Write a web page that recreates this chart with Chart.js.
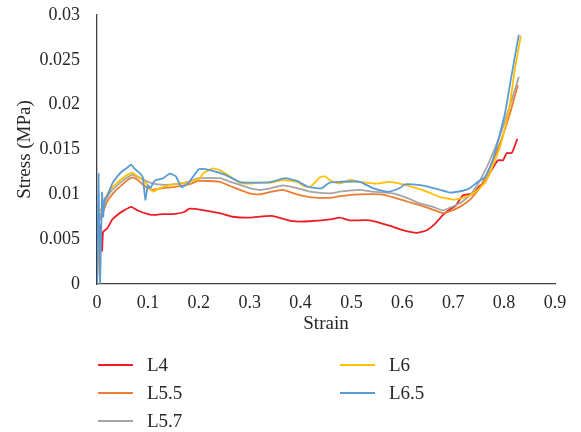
<!DOCTYPE html>
<html>
<head>
<meta charset="utf-8">
<script src="https://cdn.jsdelivr.net/npm/chart.js@4/dist/chart.umd.min.js"></script>
<style>
  body { margin: 0; background: #fff; }
  #wrap { position: relative; width: 581px; height: 432px; }
  #legend { position: absolute; left: 0; top: 0; width: 581px; height: 432px; pointer-events: none;
    font-family: "Liberation Serif", serif; font-size: 19px; color: #262626; }
  .item { position: absolute; display: flex; align-items: center; height: 24px; }
  .item span.swatch { display: inline-block; width: 35px; height: 2px; margin-right: 14px; }
</style>
</head>
<body>
<div id="wrap">
  <canvas id="chart" width="581" height="432"></canvas>
  <div id="legend"></div>
</div>
<script>
const seriesNames = ['L4', 'L5.5', 'L5.7', 'L6', 'L6.5'];
const seriesColors = ['#EE1C25', '#ED7D31', '#A5A5A5', '#FFC000', '#5B9BD5'];

const xTicks = [0, 0.1, 0.2, 0.3, 0.4, 0.5, 0.6, 0.7, 0.8, 0.9];
const yTicks = [0, 0.005, 0.01, 0.015, 0.02, 0.025, 0.03];

const strainL4 = [0, 0.004, 0.008, 0.010, 0.012, 0.02, 0.03, 0.04, 0.05, 0.067, 0.08, 0.1, 0.113, 0.13, 0.15, 0.17, 0.182, 0.202, 0.241, 0.267, 0.3, 0.343, 0.385, 0.418, 0.457, 0.477, 0.497, 0.536, 0.575, 0.601, 0.628, 0.648, 0.664, 0.68, 0.693, 0.706, 0.719, 0.739, 0.753, 0.762, 0.772, 0.788, 0.798, 0.805, 0.815, 0.826];
const stressL4 = [0, 0.0068, 0.0060, 0.0037, 0.0058, 0.0062, 0.0072, 0.0077, 0.0081, 0.0086, 0.0082, 0.0078, 0.0077, 0.0078, 0.0078, 0.0080, 0.0084, 0.0083, 0.0079, 0.0075, 0.0074, 0.0076, 0.0070, 0.0070, 0.0072, 0.0074, 0.0071, 0.0071, 0.0065, 0.0060, 0.0057, 0.0060, 0.0067, 0.0077, 0.0083, 0.0088, 0.0099, 0.0101, 0.0110, 0.0113, 0.0124, 0.0138, 0.0138, 0.0146, 0.0146, 0.0162];

const strainL55 = [0, 0.004, 0.01, 0.02, 0.03, 0.04, 0.05, 0.06, 0.07, 0.08, 0.09, 0.1, 0.11, 0.13, 0.15, 0.18, 0.2, 0.241, 0.267, 0.3, 0.32, 0.343, 0.365, 0.393, 0.418, 0.457, 0.477, 0.516, 0.556, 0.581, 0.609, 0.634, 0.66, 0.68, 0.693, 0.713, 0.733, 0.753, 0.772, 0.792, 0.812, 0.827];
const stressL55 = [0, 0.0070, 0.0078, 0.0092, 0.0100, 0.0106, 0.0111, 0.0116, 0.0119, 0.0116, 0.0111, 0.0107, 0.0105, 0.0107, 0.0108, 0.0111, 0.0115, 0.0114, 0.0108, 0.0101, 0.0100, 0.0103, 0.0105, 0.0100, 0.0097, 0.0096, 0.0098, 0.0100, 0.0100, 0.0097, 0.0092, 0.0088, 0.0083, 0.0079, 0.0081, 0.0086, 0.0094, 0.0108, 0.0130, 0.0157, 0.0191, 0.0222];

const strainL57 = [0, 0.004, 0.01, 0.02, 0.03, 0.04, 0.05, 0.06, 0.07, 0.08, 0.09, 0.1, 0.12, 0.15, 0.18, 0.2, 0.241, 0.267, 0.3, 0.32, 0.343, 0.365, 0.393, 0.418, 0.457, 0.477, 0.516, 0.542, 0.581, 0.609, 0.634, 0.66, 0.68, 0.693, 0.713, 0.733, 0.753, 0.772, 0.792, 0.812, 0.829];
const stressL57 = [0, 0.0075, 0.0080, 0.0097, 0.0105, 0.0110, 0.0115, 0.0119, 0.0122, 0.0119, 0.0117, 0.0114, 0.0111, 0.0111, 0.0114, 0.0118, 0.0118, 0.0113, 0.0107, 0.0105, 0.0107, 0.0110, 0.0107, 0.0103, 0.0101, 0.0103, 0.0105, 0.0103, 0.0101, 0.0096, 0.0090, 0.0086, 0.0082, 0.0085, 0.0090, 0.0099, 0.0116, 0.0138, 0.0166, 0.0200, 0.0231];

const strainL6 = [0, 0.004, 0.01, 0.02, 0.03, 0.04, 0.05, 0.06, 0.07, 0.08, 0.09, 0.1, 0.11, 0.12, 0.14, 0.16, 0.18, 0.2, 0.21, 0.228, 0.241, 0.267, 0.28, 0.3, 0.32, 0.343, 0.365, 0.393, 0.405, 0.418, 0.428, 0.438, 0.448, 0.457, 0.477, 0.497, 0.516, 0.55, 0.575, 0.595, 0.621, 0.648, 0.674, 0.693, 0.703, 0.719, 0.733, 0.746, 0.762, 0.772, 0.782, 0.792, 0.802, 0.812, 0.821, 0.833];
const stressL6 = [0, 0.0080, 0.0085, 0.0100, 0.0108, 0.0113, 0.0118, 0.0122, 0.0124, 0.0120, 0.0116, 0.0110, 0.0103, 0.0106, 0.0110, 0.0112, 0.0114, 0.0117, 0.0124, 0.0129, 0.0127, 0.0118, 0.0113, 0.0112, 0.0113, 0.0113, 0.0116, 0.0114, 0.0110, 0.0108, 0.0113, 0.0119, 0.0120, 0.0116, 0.0112, 0.0116, 0.0114, 0.0112, 0.0114, 0.0112, 0.0108, 0.0103, 0.0097, 0.0095, 0.0094, 0.0096, 0.0099, 0.0104, 0.0113, 0.0124, 0.0138, 0.0153, 0.0175, 0.0203, 0.0239, 0.0277];

const strainL65 = [0, 0.003, 0.006, 0.01, 0.012, 0.015, 0.02, 0.03, 0.04, 0.05, 0.06, 0.067, 0.075, 0.085, 0.09, 0.095, 0.1, 0.105, 0.113, 0.13, 0.143, 0.155, 0.166, 0.18, 0.2, 0.213, 0.251, 0.28, 0.31, 0.343, 0.369, 0.393, 0.412, 0.43, 0.442, 0.457, 0.477, 0.516, 0.542, 0.569, 0.581, 0.595, 0.605, 0.621, 0.648, 0.674, 0.693, 0.719, 0.733, 0.746, 0.762, 0.772, 0.782, 0.792, 0.802, 0.812, 0.821, 0.829];
const stressL65 = [0, 0.0123, 0, 0.0102, 0.0075, 0.0095, 0.0098, 0.0112, 0.0120, 0.0126, 0.0130, 0.0133, 0.0128, 0.0123, 0.0119, 0.0094, 0.0110, 0.0107, 0.0115, 0.0118, 0.0123, 0.0120, 0.0108, 0.0113, 0.0128, 0.0128, 0.0122, 0.0114, 0.0113, 0.0114, 0.0118, 0.0115, 0.0109, 0.0107, 0.0107, 0.0113, 0.0114, 0.0114, 0.0107, 0.0103, 0.0104, 0.0107, 0.0111, 0.0111, 0.0109, 0.0105, 0.0102, 0.0104, 0.0107, 0.0113, 0.0119, 0.0130, 0.0146, 0.0168, 0.0191, 0.0224, 0.0253, 0.0278];

const strainSets = [strainL4, strainL55, strainL57, strainL6, strainL65];
const stressSets = [stressL4, stressL55, stressL57, stressL6, stressL65];

const FONT = "'Liberation Serif', serif";
const TEXT = '#262626';

const toPoints = (xs, ys) => xs.map((x, i) => ({ x: x, y: ys[i] }));

const datasets = seriesNames.map((name, i) => ({
  label: name,
  data: toPoints(strainSets[i], stressSets[i]),
  borderColor: seriesColors[i],
  backgroundColor: seriesColors[i],
  borderWidth: 1.8,
  pointRadius: 0,
  tension: 0.15,
  fill: false,
  order: seriesNames.length - i
}));

// keep the plot box where the original has it: no extra room for tick labels
const noScalePadding = axis => {
  axis.paddingTop = 0; axis.paddingBottom = 0;
  axis.paddingLeft = 0; axis.paddingRight = 0;
};

new Chart(document.getElementById('chart'), {
  type: 'line',
  data: { datasets },
  options: {
    responsive: false,
    animation: false,
    events: [],
    layout: { autoPadding: false, padding: { left: 0, right: 26, top: 15, bottom: 88 } },
    plugins: { legend: { display: false }, tooltip: { enabled: false } },
    scales: {
      x: {
        type: 'linear',
        min: 0, max: 0.9,
        afterBuildTicks: axis => { axis.ticks = xTicks.map(v => ({ value: v })); },
        afterFit: axis => { axis.height = 60; noScalePadding(axis); },
        grid: { display: false, drawTicks: false },
        border: { display: true, color: '#404040', width: 1.3 },
        ticks: { color: TEXT, font: { family: FONT, size: 18 }, padding: 8, maxRotation: 0,
          callback: v => String(v) },
        title: { display: true, text: 'Strain', color: TEXT, font: { family: FONT, size: 19 },
          padding: { top: 0, bottom: 9 } }
      },
      y: {
        min: 0, max: 0.03,
        afterBuildTicks: axis => { axis.ticks = yTicks.map(v => ({ value: v })); },
        afterFit: axis => { axis.width = 97; noScalePadding(axis); },
        grid: { display: false, drawTicks: false },
        border: { display: true, color: '#404040', width: 1.3 },
        ticks: { color: TEXT, font: { family: FONT, size: 18 }, padding: 17,
          callback: v => String(v) },
        title: { display: true, text: 'Stress (MPa)', color: TEXT, font: { family: FONT, size: 19 },
          padding: { top: 14, bottom: 0 } }
      }
    }
  }
});

// legend laid out in two columns like the original
const legendPos = [[98, 365], [98, 393], [98, 421], [340, 365], [340, 393]];
const legend = document.getElementById('legend');
seriesNames.forEach((name, i) => {
  const item = document.createElement('div');
  item.className = 'item';
  item.style.left = legendPos[i][0] + 'px';
  item.style.top = (legendPos[i][1] - 12) + 'px';
  item.innerHTML = '<span class="swatch" style="background:' + seriesColors[i] + '"></span>' + name;
  legend.appendChild(item);
});
</script>
</body>
</html>
